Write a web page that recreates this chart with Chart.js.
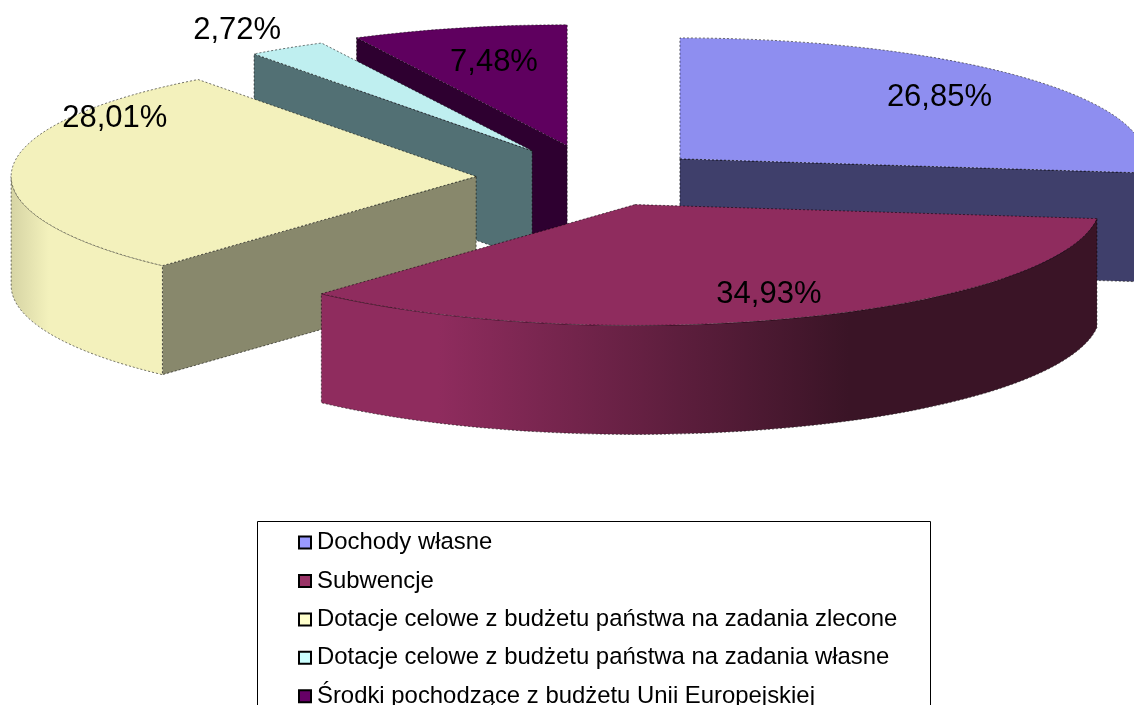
<!DOCTYPE html>
<html>
<head>
<meta charset="utf-8">
<style>html,body{margin:0;padding:0;background:#fff;overflow:hidden}canvas{display:block}</style>
<script src="https://cdn.jsdelivr.net/npm/chart.js@4/dist/chart.umd.js"></script>
</head>
<body>
<canvas id="c" width="1134" height="705"></canvas>
<script>
const categories = ["Dochody własne","Subwencje","Dotacje celowe z budżetu państwa na zadania zlecone","Dotacje celowe z budżetu państwa na zadania własne","Środki pochodzące z budżetu Unii Europejskiej"];
const values = [26.85,34.93,28.01,2.72,7.48];
const topColors = ["#8E8EF0","#8F2C5E","#F3F1BC","#BFEFF0","#5F005F"];
const legendColors = ["#9999FF","#993366","#FFFFCC","#CCFFFF","#660066"];
const faceColors = ["#3F3F6B","#3A1426","#88886C","#527074","#2E0030"];
const rimStops = [[[0,"#3F3F6B"],[1,"#3F3F6B"]],[[0,"#8F2C5E"],[0.15,"#8F2C5E"],[0.68,"#3A1426"],[1,"#3A1426"]],[[0,"#D6D4A4"],[0.25,"#F3F1BC"],[1,"#F3F1BC"]],[[0,"#527074"],[1,"#527074"]],[[0,"#2E0030"],[1,"#2E0030"]]];
const explode = [111,109,121,123,128];
const labelNudge = [[-1,-1],[12,5],[-13,-53],[-111,-43],[8,5]];
const RADIUS = 465, TILT = 0.26, DEPTH = 109;
const CX = 597, CY = 178;
const W = 1134, H = 705;
const LEG = {boxLeft:257, boxTop:521, boxRight:931, markerX:305, firstRowY:545, pad:14.5, font:23.9};
const EDGE = 'rgba(0,0,0,0.55)';

const fmt = v => v.toFixed(2).replace('.',',') + '%';
const sx = a => a.x;
const sy = (a,cy) => cy + (a.y - cy) * TILT;

const pie3d = {
  id:'pie3d',
  afterDatasetsUpdate(chart){
    const meta = chart.getDatasetMeta(0);
    meta.data.forEach((a,i)=>{
      const mid = (a.startAngle + a.endAngle)/2;
      a.x += Math.cos(mid)*explode[i];
      a.y += Math.sin(mid)*explode[i];
    });
  },
  afterLayout(chart){
    const l = chart.legend;
    l.left = LEG.markerX - LEG.pad;
    l.right = LEG.boxRight - 1;
    l.width = l.right - l.left;
    l.top = LEG.firstRowY - LEG.font*0.6 - LEG.pad;
    l.bottom = H + 200;
    l.height = l.bottom - l.top;
  },
  beforeDatasetsDraw(chart){
    const ctx = chart.ctx, meta = chart.getDatasetMeta(0);
    const cy = (chart.chartArea.top + chart.chartArea.bottom)/2;
    const order = meta.data.map((a,i)=>i).sort((p,q)=>meta.data[p].y*1 - meta.data[q].y*1);
    ctx.save();
    ctx.strokeStyle = EDGE; ctx.lineWidth = 1; ctx.setLineDash([2,2]);
    order.forEach(i=>{
      const a = meta.data[i], R = a.outerRadius, x = sx(a), y = sy(a,cy);
      const a0 = a.startAngle, a1 = a.endAngle;
      const pt = t => [x + R*Math.cos(t), y + R*TILT*Math.sin(t)];
      const face = t => {
        const p = pt(t);
        ctx.beginPath(); ctx.moveTo(x,y); ctx.lineTo(p[0],p[1]); ctx.lineTo(p[0],p[1]+DEPTH); ctx.lineTo(x,y+DEPTH); ctx.closePath();
        ctx.fillStyle = faceColors[i]; ctx.fill(); ctx.stroke();
      };
      if (Math.cos(a0) < 0) face(a0);
      if (Math.cos(a1) > 0) face(a1);
      const r0 = Math.max(a0,0), r1 = Math.min(a1,Math.PI);
      if (r1 > r0){
        const left = Math.min(pt(r1)[0], pt(r0)[0]);
        const right = Math.max(pt(r1)[0], pt(r0)[0]);
        const g = ctx.createLinearGradient(left,0,right,0);
        rimStops[i].forEach(s=>g.addColorStop(s[0],s[1]));
        ctx.beginPath();
        ctx.ellipse(x,y,R,R*TILT,0,r0,r1,false);
        ctx.ellipse(x,y+DEPTH,R,R*TILT,0,r1,r0,true);
        ctx.closePath();
        ctx.fillStyle = g; ctx.fill(); ctx.stroke();
      }
    });
    ctx.restore();
    ctx.save();
    ctx.translate(0,cy); ctx.scale(1,TILT); ctx.translate(0,-cy);
  },
  afterDatasetsDraw(chart){
    const ctx = chart.ctx, meta = chart.getDatasetMeta(0);
    ctx.restore();
    const cy = (chart.chartArea.top + chart.chartArea.bottom)/2;
    ctx.save();
    ctx.strokeStyle = EDGE; ctx.lineWidth = 1; ctx.setLineDash([2,2]);
    meta.data.forEach(a=>{
      const x = sx(a), y = sy(a,cy), R = a.outerRadius;
      ctx.beginPath();
      ctx.moveTo(x,y);
      ctx.ellipse(x,y,R,R*TILT,0,a.startAngle,a.endAngle,false);
      ctx.closePath();
      ctx.stroke();
    });
    ctx.setLineDash([]);
    ctx.fillStyle = '#000';
    ctx.font = '31px "Liberation Sans"';
    ctx.textAlign = 'center'; ctx.textBaseline = 'middle';
    meta.data.forEach((a,i)=>{
      const mid = (a.startAngle + a.endAngle)/2, R = a.outerRadius;
      const lx = sx(a) + 0.75*R*Math.cos(mid) + labelNudge[i][0];
      const ly = sy(a,cy) + 0.75*R*TILT*Math.sin(mid) + labelNudge[i][1];
      ctx.fillText(fmt(values[i]), lx, ly);
    });
    ctx.restore();
  },
  afterDraw(chart){
    const ctx = chart.ctx;
    ctx.save();
    ctx.strokeStyle = '#000'; ctx.lineWidth = 1;
    ctx.beginPath();
    ctx.moveTo(LEG.boxLeft+.5, H+2);
    ctx.lineTo(LEG.boxLeft+.5, LEG.boxTop+.5);
    ctx.lineTo(LEG.boxRight-.5, LEG.boxTop+.5);
    ctx.lineTo(LEG.boxRight-.5, H+2);
    ctx.stroke();
    ctx.restore();
  }
};

new Chart(document.getElementById('c'),{
  type:'pie',
  data:{labels:categories,datasets:[{data:values,backgroundColor:topColors,borderWidth:0,clip:false,radius:RADIUS}]},
  options:{
    responsive:false,animation:false,
    layout:{padding:{left:2*CX-W,top:0,right:0,bottom:H-2*CY}},
    plugins:{
      tooltip:{enabled:false},
      legend:{
        position:'chartArea',align:'start',
        labels:{
          usePointStyle:true,pointStyle:'rect',boxWidth:0.01,boxHeight:12,padding:LEG.pad,color:'#000',
          font:{family:'"Liberation Sans"',size:LEG.font},
          generateLabels:c=>c.data.labels.map((text,i)=>({text,fillStyle:legendColors[i],strokeStyle:'#000',lineWidth:2,pointStyle:'rect',fontColor:'#000',hidden:false,index:i}))
        }
      }
    }
  },
  plugins:[pie3d]
});
</script>
</body>
</html>
